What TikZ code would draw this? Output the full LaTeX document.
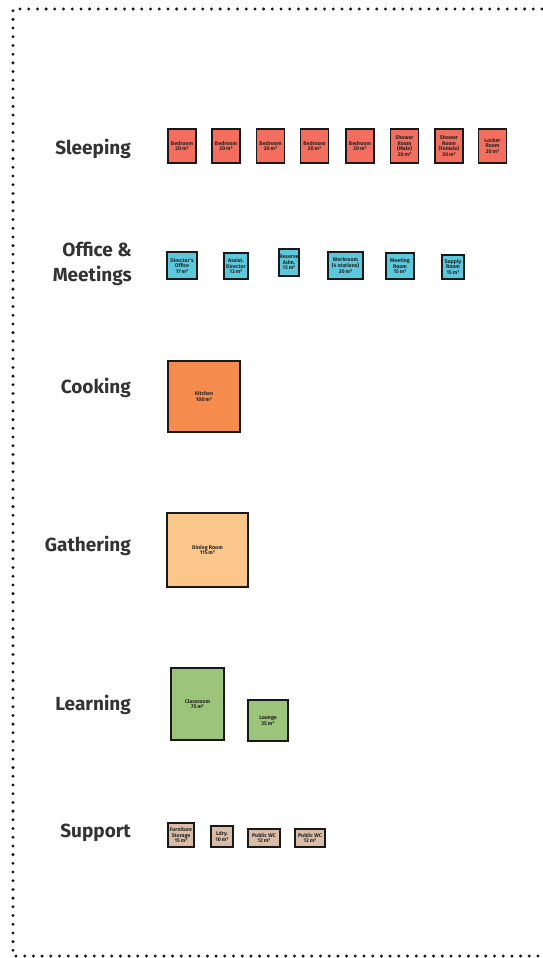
\documentclass[tikz,border=0pt]{standalone}
\usepackage{fontspec}
\setmainfont{Fira Sans}
\usepackage{tikz}
\usetikzlibrary{positioning}
\definecolor{sleepred}{HTML}{F46E5F}
\definecolor{officecyan}{HTML}{5CC8DC}
\definecolor{cookorange}{HTML}{F68B4E}
\definecolor{gatherpeach}{HTML}{FBC689}
\definecolor{learngreen}{HTML}{9CC47A}
\definecolor{supporttan}{HTML}{D9BDA9}
\definecolor{labelgray}{HTML}{333333}
\tikzstyle{room} = [rectangle, draw=black!90, line width=1.3pt, inner sep=0pt, align=center, text=black!85, font=\bfseries\fontsize{5.3}{5.6}\selectfont]
\tikzstyle{zone} = [anchor=east, align=right, inner sep=0pt, text=labelgray, font=\bfseries\fontsize{19}{25}\selectfont]
\tikzstyle{sleep} = [room, fill=sleepred, minimum width=28pt, minimum height=34pt]
\tikzstyle{office} = [room, fill=officecyan]
\tikzstyle{support} = [room, fill=supporttan]

\begin{document}
\begin{tikzpicture}[x=1pt, y=-1pt]
        \useasboundingbox (0,0) rectangle (542,958);
        \draw [line width=3.3pt, line cap=round, dash pattern=on 0pt off 8.7pt, black!90] (542,9) -- (13,9) -- (13,956) -- (542,956);
        % zone labels
        \node (lsleep) [zone] at (131,149) {Sleeping};
        \node (loffice) [zone] at (132,264) {Office \&\\Meetings};
        \node (lcook) [zone] at (131,388) {Cooking};
        \node (lgather) [zone] at (131,546) {Gathering};
        \node (llearn) [zone] at (131,705) {Learning};
        \node (lsupport) [zone] at (131,833) {Support};
        % sleeping
        \node (bed1) [sleep] at (182,146) {Bedroom\\20\,m²};
        \node (bed2) [sleep] at (226,146) {Bedroom\\20\,m²};
        \node (bed3) [sleep] at (270.5,146) {Bedroom\\20\,m²};
        \node (bed4) [sleep] at (314.5,146) {Bedroom\\20\,m²};
        \node (bed5) [sleep] at (360,146) {Bedroom\\20\,m²};
        \node (showm) [sleep] at (404.5,146) {Shower\\Room\\(Male)\\20\,m²};
        \node (showf) [sleep] at (449,146) {Shower\\Room\\(Female)\\20\,m²};
        \node (locker) [sleep] at (492.5,146) {Locker\\Room\\20\,m²};
        % office and meetings
        \node (dir) [office, minimum width=30pt, minimum height=27pt] at (182,265.5) {Director's\\Office\\17\,m²};
        \node (assist) [office, minimum width=24pt, minimum height=26pt] at (236,266) {Assist.\\Director\\13\,m²};
        \node (reserve) [office, minimum width=20pt, minimum height=27pt] at (289,262.5) {Reserve\\Adm.\\13\,m²};
        \node (work) [office, minimum width=35pt, minimum height=27pt] at (345.5,265.5) {Workroom\\(4 stations)\\20\,m²};
        \node (meet) [office, minimum width=28pt, minimum height=26pt] at (400,266) {Meeting\\Room\\15\,m²};
        \node (supply) [office, minimum width=22pt, minimum height=24pt] at (453,267) {Supply\\Room\\15\,m²};
        % cooking and gathering
        \node (kitchen) [room, fill=cookorange, minimum width=72pt, minimum height=71pt] at (204,396.5) {Kitchen\\100\,m²};
        \node (dining) [room, fill=gatherpeach, minimum width=81pt, minimum height=74pt] at (207.5,550) {Dining Room\\115\,m²};
        % learning
        \node (class) [room, fill=learngreen, minimum width=53pt, minimum height=72pt] at (197.5,704) {Classroom\\75\,m²};
        \node (lounge) [room, fill=learngreen, minimum width=40pt, minimum height=41pt] at (268,720.5) {Lounge\\35\,m²};
        % support
        \node (furn) [support, minimum width=26pt, minimum height=24pt] at (181,835) {Furniture\\Storage\\15\,m²};
        \node (ldry) [support, minimum width=22pt, minimum height=21pt] at (222,836.5) {Ldry.\\10\,m²};
        \node (wc1) [support, minimum width=32pt, minimum height=18pt] at (264,838) {Public WC\\12\,m²};
        \node (wc2) [support, minimum width=30pt, minimum height=18pt] at (310,838) {Public WC\\12\,m²};
    \end{tikzpicture}
\end{document}
